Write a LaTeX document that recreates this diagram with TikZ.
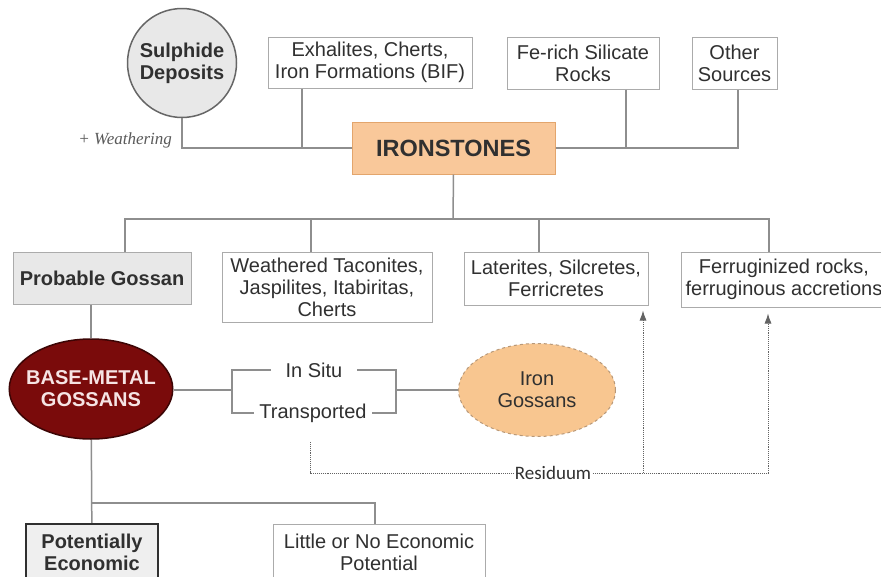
\documentclass[tikz,border=0pt]{standalone}
\usepackage{fontspec}
\setmainfont{Liberation Sans}
\newfontfamily\weathfont{Liberation Serif}
\newfontfamily\residfont{Carlito}
\usetikzlibrary{arrows,arrows.meta,positioning,shapes.geometric}

\definecolor{txt}{HTML}{303030}
\definecolor{lnclr}{HTML}{8E8E8E}
\definecolor{boxln}{HTML}{ABABAB}
\definecolor{palegray}{HTML}{E8E8E8}
\definecolor{ironfill}{HTML}{F9C89A}
\definecolor{ironedge}{HTML}{E3A56C}
\definecolor{gossfill}{HTML}{F8C690}
\definecolor{gossedge}{HTML}{B89878}
\definecolor{basefill}{HTML}{7A0B0B}
\definecolor{baseedge}{HTML}{3C0505}
\definecolor{basetxt}{HTML}{F6E4E4}

\begin{document}
\begin{tikzpicture}[x=1pt,y=-1pt,>={Latex[length=10pt,width=7pt]},line width=1.5pt]
\tikzstyle{src} = [rectangle,draw=boxln,line width=1pt,fill=white,text=txt,align=center,inner sep=0pt,font=\fontsize{20}{22}\selectfont]
\tikzstyle{grybox} = [src,fill=palegray,font=\fontsize{20}{22}\selectfont\bfseries]
\tikzstyle{lnk} = [draw=lnclr,line width=1.5pt]
\tikzstyle{resid} = [draw=lnclr!70!black,line width=0.9pt,densely dotted]
\tikzstyle{lbl} = [text=txt,font=\fontsize{20}{22}\selectfont,inner ysep=0pt]

\useasboundingbox (0,0) rectangle (881,576);
\fill[white] (0,0) rectangle (881,576);

% sources
\node[circle,draw=gray!80!black,line width=1.5pt,fill=palegray,minimum size=109pt,inner sep=0pt,align=center,text=txt,font=\fontsize{20}{22}\selectfont\bfseries] (sulph) at (182,63) {Sulphide\\Deposits};
\node[src,minimum width=204pt,minimum height=51pt] (exh) at (370,62.5) {Exhalites, Cherts,\\Iron Formations (BIF)};
\node[src,minimum width=152pt,minimum height=52pt] (fesil) at (583,63) {Fe-rich Silicate\\Rocks};
\node[src,minimum width=85pt,minimum height=52pt] (other) at (734.5,63) {Other\\Sources};
\node[rectangle,draw=ironedge,line width=1pt,fill=ironfill,minimum width=203pt,minimum height=52pt,text=txt,font=\fontsize{23.5}{26}\selectfont\bfseries] (iron) at (453.5,148) {IRONSTONES};
\node[lbl,text=txt!80,font=\fontsize{17}{20}\weathfont\itshape,anchor=east] (weath) at (176,140) {+ Weathering};

\draw[lnk] (sulph) |- (iron.west);
\coordinate (exhft) at ([xshift=-68pt]exh.south);
\draw[lnk] (exhft) -- (exhft |- iron.west);
\draw[lnk] (iron.east) -| ([xshift=3.5pt]other.south);
\coordinate (feft) at ([xshift=43pt]fesil.south);
\draw[lnk] (feft) -- (feft |- iron.east);

% ironstone types
\node[grybox,minimum width=178pt,minimum height=52pt] (prob) at (102,278) {Probable Gossan};
\node[src,minimum width=210pt,minimum height=70pt] (weat) at (327,287) {Weathered Taconites,\\Jaspilites, Itabiritas,\\Cherts};
\node[src,minimum width=184pt,minimum height=53pt] (lat) at (556,278.5) {Laterites, Silcretes,\\Ferricretes};
\node[src,minimum width=206pt,minimum height=55pt] (ferr) at (784,279.5) {Ferruginized rocks,\\ferruginous accretions};

\coordinate (hub) at (453,219);
\draw[lnk] (iron.south) -- (hub);
\draw[lnk] ([xshift=23pt]prob.north) |- (hub) -| ([xshift=-15pt]ferr.north);
\coordinate (weft) at ([xshift=-16pt]weat.north);
\draw[lnk] (weft) -- (weft |- hub);
\coordinate (latft) at ([xshift=-17pt]lat.north);
\draw[lnk] (latft) -- (latft |- hub);

% gossans
\node[ellipse,draw=baseedge,line width=1.5pt,fill=basefill,text=basetxt,minimum height=100pt,inner xsep=-7pt,inner ysep=0pt,align=center,font=\fontsize{20}{22}\selectfont\bfseries] (base) at (91,389) {BASE-METAL\\GOSSANS};
\node[ellipse,draw=gossedge,dashed,line width=1pt,fill=gossfill,text=txt,minimum width=157pt,minimum height=93pt,inner sep=0pt,align=center,font=\fontsize{20}{22}\selectfont] (irong) at (537,390) {Iron\\Gossans};
\node[lbl,inner xsep=14pt] (insitu) at (314,370) {In Situ};
\node[lbl,inner xsep=5pt] (transp) at (313,413) {Transported};
\coordinate (brl) at (232,390);
\coordinate (brr) at (396,390);

\draw[lnk] ([xshift=-11pt]prob.south) -- (base);
\draw[lnk] (insitu.west) -| (brl) |- (transp.west);
\draw[lnk] (insitu.east) -| (brr) |- (transp.east);
\draw[lnk] (base.east |- brl) -- (brl);
\draw[lnk] (brr) -- (irong);

% residuum
\node[lbl,font=\fontsize{19}{20}\residfont,inner xsep=1pt] (res) at (553,473) {Residuum};
\coordinate (resa) at (310,442);
\coordinate (resb) at (643,473);
\coordinate (resc) at (768,473);
\draw[resid] (resa) |- (res.west);
\draw[resid] (res.east) -- (resc);
\draw[resid,->,shorten >=5pt] (resb) -- (resb |- lat.south);
\draw[resid,->,shorten >=6pt] (resc) -- (resc |- ferr.south);

% economic potential
\node[src,draw=txt,line width=2.5pt,fill=palegray!70!white,font=\fontsize{20}{22}\selectfont\bfseries,minimum width=132pt,minimum height=56pt] (pot) at (92,552) {Potentially\\Economic};
\node[src,minimum width=212pt,minimum height=56pt] (little) at (379,552) {Little or No Economic\\Potential};
\coordinate (bj) at (91,503);
\draw[lnk] (base) -- (pot);
\draw[lnk] (bj) -| ([xshift=-4pt]little.north);
\end{tikzpicture}
\end{document}
